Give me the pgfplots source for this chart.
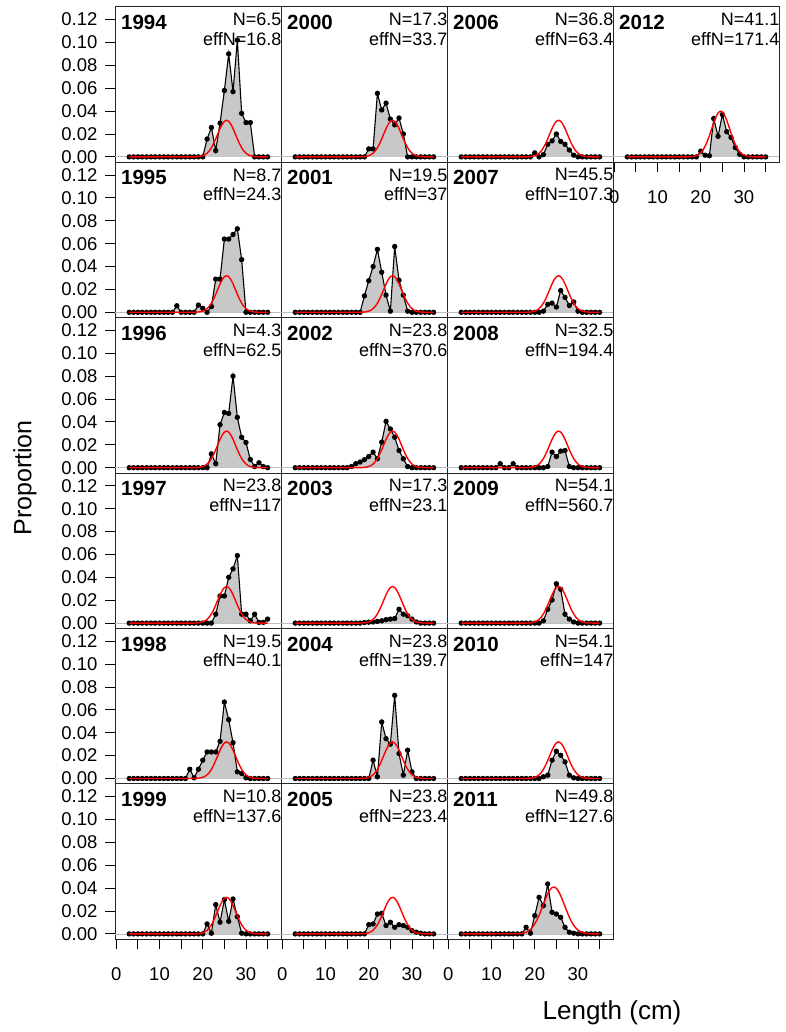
\documentclass[border=0pt]{standalone}
\usepackage{fontspec}
\setmainfont{Liberation Sans}
\usepackage{pgfplots}
\usepackage{pgfplotstable}
\pgfplotsset{compat=1.18}
\definecolor{fillgray}{RGB}{200,200,200}
\definecolor{zerogray}{RGB}{190,190,190}

% observed proportions, columns: x, then one column per year
\pgfplotstableread{
x y1994 y1995 y1996 y1997 y1998 y1999 y2000 y2001 y2002 y2003 y2004 y2005 y2006 y2007 y2008 y2009 y2010 y2011 y2012
3 0 0 0 0 0 0 0 0 0 0 0 0 0 0 0 0 0 0 0
4 0 0 0 0 0 0 0 0 0 0 0 0 0 0 0 0 0 0 0
5 0 0 0 0 0 0 0 0 0 0 0 0 0 0 0 0 0 0 0
6 0 0 0 0 0 0 0 0 0 0 0 0 0 0 0 0 0 0 0
7 0 0 0 0 0 0 0 0 0 0 0 0 0 0 0 0 0 0 0
8 0 0 0 0 0 0 0 0 0 0 0 0 0 0 0 0 0 0 0
9 0 0 0 0 0 0 0 0 0 0 0 0 0 0 0 0 0 0 0
10 0 0 0 0 0 0 0 0 0 0 0 0 0 0 0 0 0 0 0
11 0 0 0 0 0 0 0 0 0 0 0 0 0 0 0 0 0 0 0
12 0 0 0 0 0 0 0 0 0 0 0 0 0 0 0.0035 0 0 0 0
13 0 0 0 0 0 0 0 0 0 0 0 0 0 0 0 0 0 0 0
14 0 0.0057 0 0 0 0 0 0 0 0 0 0 0 0 0 0 0 0 0
15 0 0 0 0 0 0 0 0 0 0 0 0 0 0 0.0035 0 0 0 0
16 0 0 0 0 0 0 0 0 0.001 0 0 0 0 0 0 0 0 0 0
17 0 0 0 0 0.0081 0 0 0 0.0035 0 0 0 0 0 0 0 0 0 0
18 0 0 0 0 0.0006 0 0 0 0.005 0 0 0 0 0 0 0 0 0.0058 0
19 0 0.0063 0 0 0.0081 0 0 0.0144 0.007 0.0005 0 0 0 0 0 0 0 0.0006 0
20 0 0.0035 0 0 0.016 0 0.007 0.0276 0.0098 0.0008 0 0.0081 0.0035 0 0 0 0 0.016 0.005
21 0.0156 0 0 0 0.0232 0.0087 0.007 0.040 0.0136 0.001 0.016 0.0087 0 0 0 0 0 0.032 0.0015
22 0.0257 0.005 0.0121 0 0.0232 0.0006 0.0555 0.055 0.0078 0.0015 0.0015 0.0174 0.002 0.001 0 0.002 0.0015 0.0247 0.001
23 0.0055 0.029 0.0035 0.0078 0.0232 0.0256 0.041 0.035 0.0223 0.002 0.0494 0.018 0.011 0.007 0.001 0.0121 0.0029 0.0436 0.0335
24 0.0295 0.029 0.0376 0.0237 0.0325 0.0102 0.047 0.015 0.0405 0.003 0.0348 0.0073 0.014 0.008 0.0136 0.0202 0.016 0.0189 0.018
25 0.058 0.064 0.0483 0.0237 0.0668 0.030 0.033 0.001 0.0338 0.0035 0.030 0.0102 0.020 0.0046 0.0098 0.0344 0.0238 0.0174 0.037
26 0.090 0.064 0.0474 0.040 0.0514 0.011 0.028 0.0575 0.0266 0.004 0.0726 0.0058 0.0135 0.019 0.0145 0.0295 0.0203 0.0145 0.022
27 0.057 0.068 0.080 0.0474 0.0313 0.0305 0.034 0.028 0.015 0.0121 0.0218 0.0081 0.011 0.013 0.015 0.0078 0.0145 0.0058 0.017
28 0.102 0.073 0.044 0.059 0.0058 0.0151 0.020 0.015 0.0078 0.0078 0.0029 0.0073 0.006 0.006 0.001 0.0035 0.0029 0.0015 0.0081
29 0.038 0.046 0.0266 0.0078 0.0044 0.0006 0 0.001 0.001 0.0064 0.0247 0.0058 0.0015 0.009 0 0.001 0.0006 0.0006 0.0023
30 0.030 0 0.022 0.0078 0.0006 0 0 0 0 0.0035 0.0058 0.0029 0 0.001 0 0 0 0 0
31 0.030 0 0.0072 0.002 0 0 0 0 0 0.001 0 0.0015 0 0 0 0 0 0 0
32 0 0 0.001 0.0078 0 0 0 0 0 0 0 0.0006 0 0 0 0 0 0 0
33 0 0 0.0043 0.0006 0 0 0 0 0 0 0 0 0 0 0 0 0 0 0
34 0 0 0.001 0.0006 0 0 0 0 0 0 0 0 0 0 0 0 0 0 0
35 0 0 0 0.0035 0 0 0 0 0 0 0 0 0 0 0 0 0 0 0
}\obs

% expected proportions (red): c = common curve, r11 = 2011, r12 = 2012
\pgfplotstableread{
x c r11 r12
3 0 0 0
16 0 0.00015 0
16.5 0 0.00028 0
17 0 0.00051 0.00006
17.5 0 0.00091 0.00013
18 0.00005 0.00155 0.00029
18.5 0.00012 0.00253 0.00059
19 0.00027 0.00398 0.00114
19.5 0.00054 0.00601 0.0021
20 0.00104 0.00871 0.00363
20.5 0.00188 0.01214 0.00595
21 0.00322 0.01626 0.0092
21.5 0.00522 0.02092 0.01346
22 0.00798 0.02586 0.01859
22.5 0.01153 0.03072 0.02426
23 0.01575 0.03505 0.02992
23.5 0.02033 0.03843 0.03487
24 0.02479 0.04048 0.0384
24.5 0.02857 0.04097 0.03995
25 0.03111 0.03984 0.03928
25.5 0.032 0.03722 0.03649
26 0.03111 0.03341 0.03203
26.5 0.02857 0.02881 0.02656
27 0.02479 0.02387 0.02082
27.5 0.02033 0.01901 0.01542
28 0.01575 0.01454 0.01078
28.5 0.01153 0.01068 0.00713
29 0.00798 0.00754 0.00446
29.5 0.00522 0.00512 0.00263
30 0.00322 0.00334 0.00147
30.5 0.00188 0.00209 0.00077
31 0.00104 0.00126 0.00038
31.5 0.00054 0.00073 0.00018
32 0.00027 0.0004 0.00008
32.5 0.00012 0.00022 0
33 0.00005 0.00011 0
35 0 0 0
}\redtab

\pgfplotsset{
  panel/.style={
    width=166pt, height=155.4pt, scale only axis,
    xmin=-0.3, xmax=38.1, ymin=-0.0048, ymax=0.131,
    xtick=\empty, ytick=\empty,
    axis line style={line width=1pt, black!85},
    tick align=outside, major tick length=10pt,
    tick style={line width=0.9pt, black},
    tick label style={font=\fontsize{18.5}{20}\selectfont},
    xticklabel style={yshift=-15pt},
    yticklabel style={xshift=-4pt},
    clip mode=individual,
  },
  leftcol/.style={
    ytick={0,0.02,0.04,0.06,0.08,0.1,0.12},
    yticklabels={0.00,0.02,0.04,0.06,0.08,0.10,0.12},
    ytick pos=left,
  },
  bottomrow/.style={
    xtick={0,5,10,15,20,25,30,35},
    xticklabels={0,,10,,20,,30,},
    xtick pos=bottom,
  },
  none/.style={},
}

\newcommand{\panel}[7]{%
  \begin{axis}[panel, at={({115pt+#1*166pt},{1025pt-#2*155.4pt})}, anchor=north west, #7]
    \addplot[zerogray, line width=0.8pt, forget plot] coordinates {(-0.3,0) (38.1,0)};
    \addplot[fill=fillgray, draw=none, forget plot] table[x=x, y=y#3] {\obs} \closedcycle;
    \addplot[black, line width=1.1pt, mark=*, mark size=2.1pt, mark options={solid, fill=black}] table[x=x, y=y#3] {\obs};
    \addplot[red, line width=1.4pt, no markers] table[x=x, y=#6] {\redtab};
    \node[anchor=north west, inner sep=0pt, font=\bfseries\fontsize{20.5}{22}\selectfont] at ([xshift=6pt, yshift=-8pt]rel axis cs:0,1) {#3};
    \node[anchor=north east, inner sep=0pt, font=\fontsize{18}{20}\selectfont] at ([xshift=0.5pt, yshift=-6pt]rel axis cs:1,1) {N=#4};
    \node[anchor=north east, inner sep=0pt, font=\fontsize{18}{20}\selectfont] at ([xshift=0.5pt, yshift=-25pt]rel axis cs:1,1) {effN=#5};
  \end{axis}%
}

\begin{document}
\begin{tikzpicture}
\useasboundingbox (0,0) rectangle (785pt,1032pt);
\panel{0}{0}{1994}{6.5}{16.8}{c}{leftcol}
\panel{0}{1}{1995}{8.7}{24.3}{c}{leftcol}
\panel{0}{2}{1996}{4.3}{62.5}{c}{leftcol}
\panel{0}{3}{1997}{23.8}{117}{c}{leftcol}
\panel{0}{4}{1998}{19.5}{40.1}{c}{leftcol}
\panel{0}{5}{1999}{10.8}{137.6}{c}{leftcol, bottomrow}
\panel{1}{0}{2000}{17.3}{33.7}{c}{none}
\panel{1}{1}{2001}{19.5}{37}{c}{none}
\panel{1}{2}{2002}{23.8}{370.6}{c}{none}
\panel{1}{3}{2003}{17.3}{23.1}{c}{none}
\panel{1}{4}{2004}{23.8}{139.7}{c}{none}
\panel{1}{5}{2005}{23.8}{223.4}{c}{bottomrow}
\panel{2}{0}{2006}{36.8}{63.4}{c}{none}
\panel{2}{1}{2007}{45.5}{107.3}{c}{none}
\panel{2}{2}{2008}{32.5}{194.4}{c}{none}
\panel{2}{3}{2009}{54.1}{560.7}{c}{none}
\panel{2}{4}{2010}{54.1}{147}{c}{none}
\panel{2}{5}{2011}{49.8}{127.6}{r11}{bottomrow}
\panel{3}{0}{2012}{41.1}{171.4}{r12}{bottomrow}
\node[rotate=90, font=\fontsize{25}{27}\selectfont] at (25pt,554pt) {Proportion};
\node[font=\fontsize{26}{28}\selectfont] at (612pt,19pt) {Length (cm)};
\end{tikzpicture}
\end{document}
